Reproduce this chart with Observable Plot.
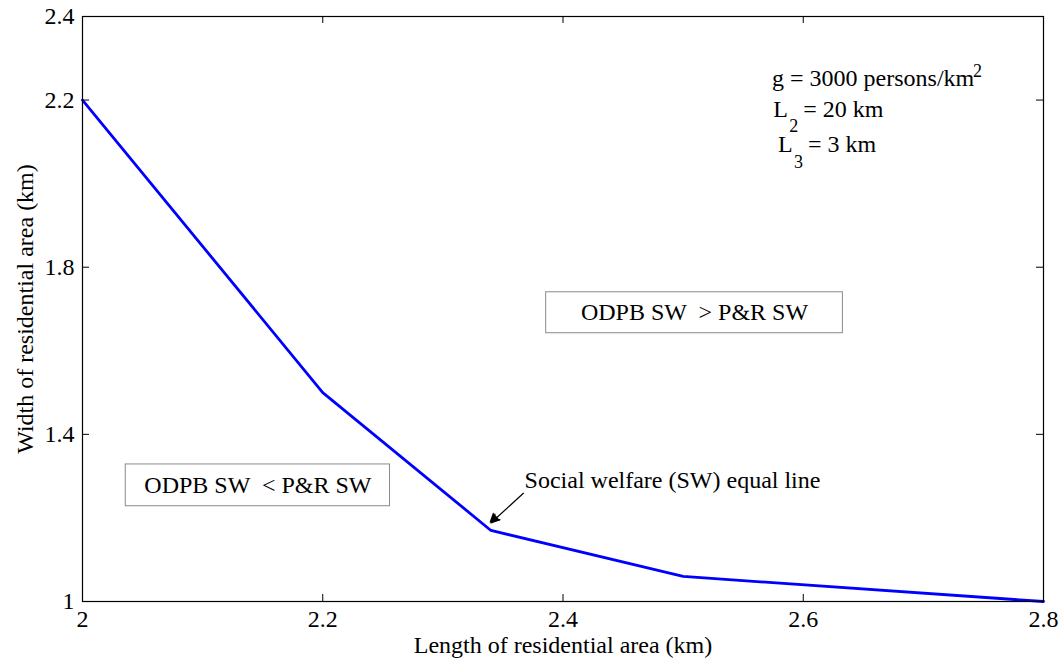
<!DOCTYPE html>
<html>
<head>
<meta charset="utf-8">
<script src="https://cdn.jsdelivr.net/npm/d3@7"></script>
<script src="https://cdn.jsdelivr.net/npm/@observablehq/plot@0.6"></script>
<style>
  html, body { margin: 0; padding: 0; background: #fff; }
  #chart svg { font-family: "Liberation Serif", "Times New Roman", serif; }
  #chart svg text { white-space: pre; font-family: "Liberation Serif", "Times New Roman", serif; }
</style>
</head>
<body>
<div id="chart"></div>
<script>
// Data
const lengthKm = [2.0, 2.2, 2.34, 2.5, 2.8];
const widthKm  = [2.2, 1.5, 1.17, 1.06, 1.0];
const xTicks = [2, 2.2, 2.4, 2.6, 2.8];
const yTicks = [1, 1.4, 1.8, 2.2, 2.4];
const xLabel = "Length of residential area (km)";
const yLabel = "Width of residential area (km)";

// Annotation content (data coordinates)
const boxLabels = ["ODPB SW  > P&R SW", "ODPB SW  < P&R SW"];
const boxX1 = [2.386, 2.036];
const boxX2 = [2.633, 2.256];
const boxY1 = [1.642, 1.228];
const boxY2 = [1.740, 1.328];
const arrowText = "Social welfare (SW) equal line";
const arrowFrom = [2.367, 1.259];
const arrowTo = [2.340, 1.188];
const arrowHeadAt = [2.3427, 1.1986];
const arrowTextPos = [2.368, 1.291];
const paramX = [2.574, 2.575, 2.579];
const paramY = [2.251, 2.177, 2.093];
const paramMain = ["g = 3000 persons/km", "L", "L"];
const paramRest = ["", "= 20 km", "= 3 km"];
const paramScript = ["2", "2", "3"];

const W = 1062, H = 660;
const mT = 16, mB = 59, mL = 82, mR = 19;
const plotH = H - mT - mB;
const plotW = W - mL - mR;

const lineData = lengthKm.map((x, i) => ({x, y: widthKm[i]}));
const boxes = boxLabels.map((t, i) => ({t, x1: boxX1[i], x2: boxX2[i], y1: boxY1[i], y2: boxY2[i]}));
const params = paramMain.map((t, i) => ({t, r: paramRest[i], s: paramScript[i], x: paramX[i], y: paramY[i]}));

const fs = 24, fsSmall = 18;
const chart = Plot.plot({
  width: W, height: H,
  marginTop: mT, marginBottom: mB, marginLeft: mL, marginRight: mR,
  style: {fontFamily: '"Liberation Serif", "Times New Roman", serif', fontSize: fs + "px", color: "#000", background: "#fff"},
  x: {domain: [2, 2.8]},
  y: {domain: [1, 2.4]},
  marks: [
    Plot.axisX(xTicks, {tickSize: 0, tickPadding: 8, fontSize: fs, tickFormat: d => String(d), label: xLabel, labelAnchor: "center", labelArrow: "none", labelOffset: 51}),
    Plot.axisY(yTicks, {tickSize: 0, tickPadding: 8, fontSize: fs, tickFormat: d => String(d), label: yLabel, labelAnchor: "center", labelArrow: "none", labelOffset: 67}),
    // inward ticks on all four sides
    Plot.tickX(xTicks, {x: d => d, insetTop: plotH - 7, stroke: "#000"}),
    Plot.tickX(xTicks, {x: d => d, insetBottom: plotH - 7, stroke: "#000"}),
    Plot.tickY(yTicks, {y: d => d, insetRight: plotW - 7, stroke: "#000"}),
    Plot.tickY(yTicks, {y: d => d, insetLeft: plotW - 7, stroke: "#000"}),
    // boxes
    Plot.rect(boxes, {x1: "x1", x2: "x2", y1: "y1", y2: "y2", fill: "#fff", stroke: "#8a8a8a", strokeWidth: 1}),
    Plot.text(boxes, {x: d => (d.x1 + d.x2) / 2, y: d => (d.y1 + d.y2) / 2, text: "t", fontSize: fs, fill: "#000"}),
    // curve
    Plot.line(lineData, {x: "x", y: "y", stroke: "#0000ff", strokeWidth: 2.8}),
    Plot.frame({stroke: "#000", strokeWidth: 1.2}),
    // arrow annotation
    Plot.arrow([0], {x1: () => arrowFrom[0], y1: () => arrowFrom[1], x2: () => arrowTo[0], y2: () => arrowTo[1], stroke: "#000", strokeWidth: 1.2, headLength: 12, headAngle: 45}),
    Plot.dot([0], {x: () => arrowHeadAt[0], y: () => arrowHeadAt[1], symbol: "triangle", r: 4, fill: "#000", stroke: "none", rotate: 229.5}),
    Plot.text([arrowText], {x: () => arrowTextPos[0], y: () => arrowTextPos[1], text: d => d, textAnchor: "start", fontSize: fs, fill: "#000"}),
    // parameter text
    Plot.text(params, {x: "x", y: "y", text: "t", textAnchor: "start", fontSize: fs}),
    Plot.text(params.slice(0, 1), {x: "x", y: "y", text: "s", textAnchor: "start", fontSize: fsSmall, dx: 201, dy: -8}),
    Plot.text(params.slice(1), {x: "x", y: "y", text: "s", textAnchor: "start", fontSize: fsSmall, dx: 16, dy: 17}),
    Plot.text(params.slice(1), {x: "x", y: "y", text: "r", textAnchor: "start", fontSize: fs, dx: 30})
  ]
});
document.getElementById("chart").appendChild(chart);
</script>
</body>
</html>
